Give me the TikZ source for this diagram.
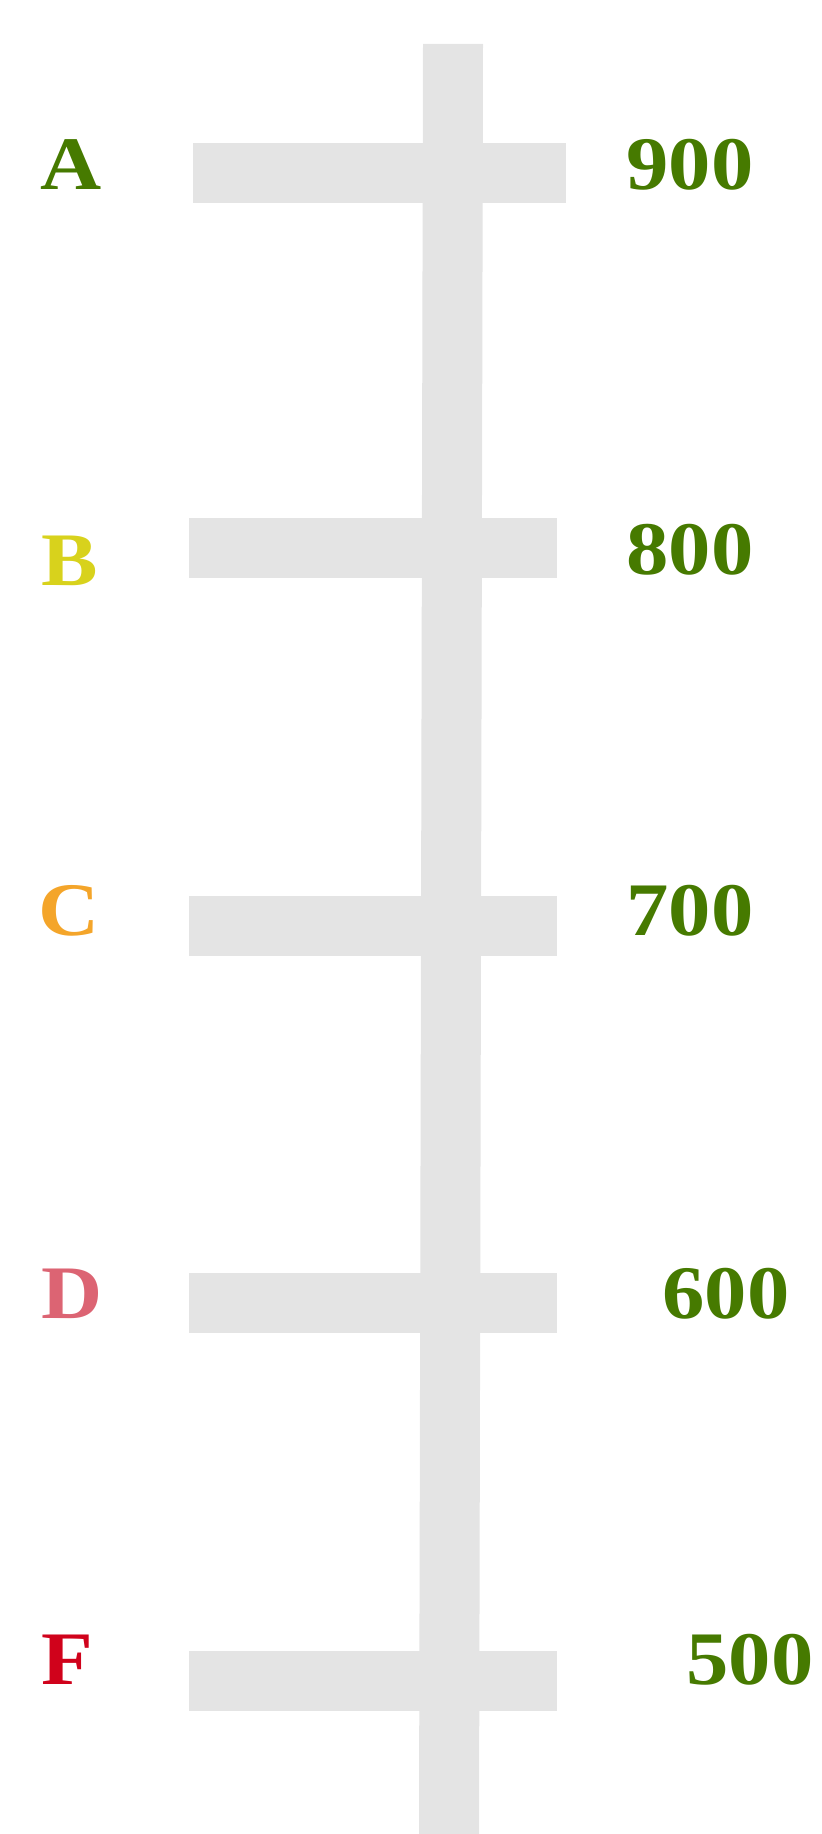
\documentclass[tikz,border=0pt]{standalone}
\usepackage{fontspec}
\setmainfont{Liberation Serif}[FakeStretch=1.12]
\usepackage{xcolor}
\usepackage{tikz}
\usetikzlibrary{positioning}
\definecolor{Leaf}{HTML}{467A00}
\definecolor{Lemon}{HTML}{D8D21C}
\definecolor{Amber}{HTML}{F4A52A}
\definecolor{Rose}{HTML}{DC6473}
\definecolor{Crimson}{HTML}{D0021B}
\definecolor{Rail}{HTML}{E4E4E4}
\tikzset{
  grade/.style={anchor=base,inner sep=0pt,font=\fontsize{21.5}{26}\selectfont\bfseries},
  score/.style={grade,text=Leaf}
}
\begin{document}
\begin{tikzpicture}[x=0.01cm,y=-0.01cm]
\useasboundingbox (0,0) rectangle (822,1834);
% spine and rungs
\fill[Rail] (423,44)--(483,44)--(479,1834)--(419,1834)--cycle;
\fill[Rail] (193,143) rectangle (566,203);
\foreach \y in {518,896,1273,1651} \fill[Rail] (189,\y) rectangle (557,\y+60);
% grades on the left, scores on the right
\foreach \g/\c/\x/\y in {A/Leaf/71/190,B/Lemon/70/586,C/Amber/69/935,D/Rose/72/1318,F/Crimson/67/1684}
  \node[grade,text=\c] (grade\g) at (\x,\y) {\g};
\foreach \s/\x/\y in {900/690/190,800/690/574,700/690/935,600/726/1318,500/750/1684}
  \node[score] (score\s) at (\x,\y) {\s};
\end{tikzpicture}
\end{document}
